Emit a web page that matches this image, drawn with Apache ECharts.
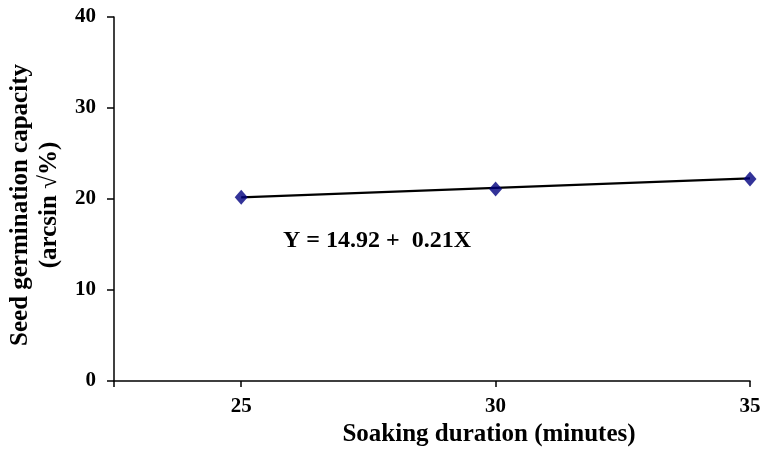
<!DOCTYPE html>
<html>
<head>
<meta charset="utf-8">
<script src="https://cdn.jsdelivr.net/npm/echarts@6/dist/echarts.min.js"></script>
<style>html,body{margin:0;padding:0;background:#fff}#c{width:762px;height:452px}</style>
</head>
<body>
<div id="c"></div>
<script>
var xValues = [25, 30, 35];
var yValues = [20.2, 21.1, 22.2];
var fitX = [25, 35];
var fitY = [20.17, 22.27];
var xTicks = [22.5, 25, 30, 35];
var xTickLabels = [25, 30, 35];
var yTicks = [0, 10, 20, 30, 40];
var equation = 'Y = 14.92 +  0.21X';

var FONT = '"Liberation Serif", "Times New Roman", serif';
var chart = echarts.init(document.getElementById('c'));
chart.setOption({
  animation: false,
  grid: {left: 114, right: 12, top: 17, bottom: 71, containLabel: false, outerBoundsMode: 'none'},
  xAxis: {
    type: 'value', min: 22.5, max: 35,
    name: 'Soaking duration (minutes)', nameLocation: 'middle', nameGap: 39,
    nameTextStyle: {fontFamily: FONT, fontWeight: 'bold', fontSize: 25, color: '#000', padding: [0, 0, 0, 114]},
    axisLine: {lineStyle: {color: '#000', width: 1.5}},
    axisTick: {show: true, customValues: xTicks, length: 6, inside: false, lineStyle: {color: '#000', width: 1.5}},
    axisLabel: {customValues: xTickLabels, fontFamily: FONT, fontWeight: 'bold', fontSize: 21, color: '#000', margin: 15},
    splitLine: {show: false}
  },
  yAxis: {
    type: 'value', min: 0, max: 40, interval: 10,
    name: 'Seed germination capacity\n(arcsin √%)', nameLocation: 'middle', nameGap: 44, nameRotate: 90,
    nameTextStyle: {fontFamily: FONT, fontWeight: 'bold', fontSize: 25, color: '#000', lineHeight: 29, padding: [0, 12, 0, 0]},
    axisLine: {lineStyle: {color: '#000', width: 1.5}},
    axisTick: {show: true, length: 7, lineStyle: {color: '#000', width: 1.5}},
    axisLabel: {fontFamily: FONT, fontWeight: 'bold', fontSize: 21, color: '#000', margin: 18,
      customValues: yTicks},
    splitLine: {show: false}
  },
  series: [
    {
      type: 'line', data: fitX.map(function(x, i){return [x, fitY[i]];}),
      symbol: 'none', lineStyle: {color: '#000', width: 2.2}, z: 2
    },
    {
      type: 'scatter', data: xValues.map(function(x, i){return [x, yValues[i]];}),
      symbol: 'diamond', symbolSize: [13, 15], itemStyle: {color: '#000080'}, z: 3
    }
  ],
  graphic: [{
    type: 'text', left: 283, top: 229,
    style: {text: equation, font: 'bold 24px ' + FONT, fill: '#000'}
  }]
});
</script>
</body>
</html>
